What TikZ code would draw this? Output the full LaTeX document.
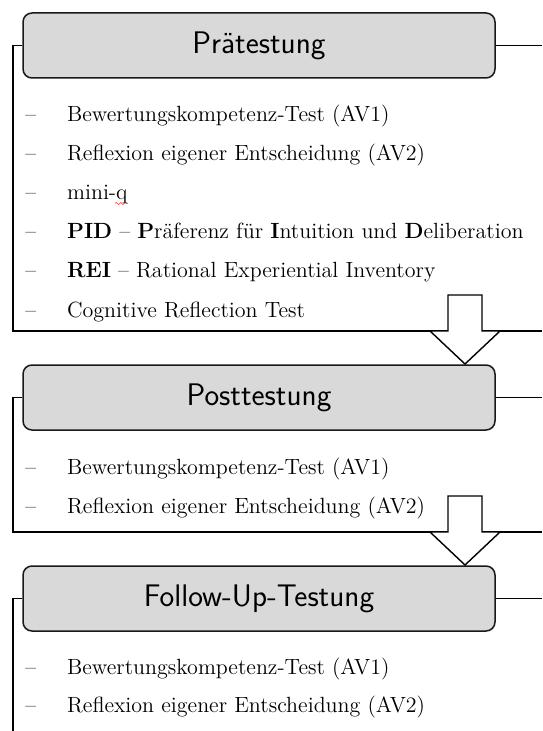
\documentclass[tikz,border=0pt]{standalone}
\usetikzlibrary{decorations.pathmorphing}
\definecolor{boxgray}{RGB}{217,217,217}
\begin{document}
\begin{tikzpicture}[x=0.5pt,y=-0.5pt,
  phase/.style={draw=black!90, fill=boxgray, rounded corners=4.5pt, line width=0.75pt,
    minimum width=236pt, minimum height=32.5pt, inner sep=0pt,
    font=\sffamily\fontsize{15.6}{18}\selectfont},
  frame/.style={line width=0.8pt},
  item/.style={anchor=base west, inner sep=0pt, font=\fontsize{11}{13}\selectfont},
  blockarrow/.style={draw, fill=white, line width=0.7pt, line join=miter}]
\useasboundingbox (0,0) rectangle (542,731);

% phase boxes
\node[phase] (p1) at (259,45.5) {Prätestung};
\node[phase] (p2) at (259,397.5) {Posttestung};
\node[phase] (p3) at (259,598.5) {Follow-Up-Testung};

% frames
\coordinate (f1c) at (13,331);  \coordinate (f1e) at (542,331); \coordinate (f1r) at (542,45.5);
\coordinate (f2c) at (13,532);  \coordinate (f2e) at (542,532); \coordinate (f2r) at (542,397.5);
\coordinate (f3c) at (13,731);  \coordinate (f3r) at (542,598.5);
\draw[frame] (p1.west) -| (f1c) -- (f1e);
\draw[frame] (p1.east) -- (f1r);
\draw[frame] (p2.west) -| (f2c) -- (f2e);
\draw[frame] (p2.east) -- (f2r);
\draw[frame] (p3.west) -| (f3c);
\draw[frame] (p3.east) -- (f3r);

% block arrows
\draw[blockarrow] (448,295) -- (448,331) -- (430,331) -- (465,364) -- (500,331) -- (482,331) -- (482,295) -- cycle;
\draw[blockarrow] (448,496) -- (448,532) -- (430,532) -- (465,565) -- (500,532) -- (482,532) -- (482,496) -- cycle;

% items of Prätestung
\node[item] (d11) at (25,122) {--};
\node[item] (t11) at (66.7,122) {Bewertungskompetenz-Test (AV1)};
\node[item] (d12) at (25,161) {--};
\node[item] (t12) at (66.7,161) {Reflexion eigener Entscheidung (AV2)};
\node[item] (d13) at (25,200) {--};
\node[item] (t13) at (66.7,200) {mini-q};
\node[item] (d14) at (25,239) {--};
\node[item] (t14) at (66.7,239) {\textbf{PID} -- \textbf{P}räferenz für \textbf{I}ntuition und \textbf{D}eliberation};
\node[item] (d15) at (25,278) {--};
\node[item] (t15) at (66.7,278) {\textbf{REI} -- Rational Experiential Inventory};
\node[item] (d16) at (25,317) {--};
\node[item] (t16) at (66.7,317) {Cognitive Reflection Test};
\draw[red!80, line width=0.25pt, decorate, decoration={snake, amplitude=0.5pt, segment length=2.2pt}]
  (t13.base east) ++(-13,3.5) -- ++(13,0);

% items of Posttestung
\node[item] (d21) at (25,474.5) {--};
\node[item] (t21) at (66.7,474.5) {Bewertungskompetenz-Test (AV1)};
\node[item] (d22) at (25,513) {--};
\node[item] (t22) at (66.7,513) {Reflexion eigener Entscheidung (AV2)};

% items of Follow-Up-Testung
\node[item] (d31) at (25,674) {--};
\node[item] (t31) at (66.7,674) {Bewertungskompetenz-Test (AV1)};
\node[item] (d32) at (25,712.5) {--};
\node[item] (t32) at (66.7,712.5) {Reflexion eigener Entscheidung (AV2)};
\end{tikzpicture}
\end{document}
